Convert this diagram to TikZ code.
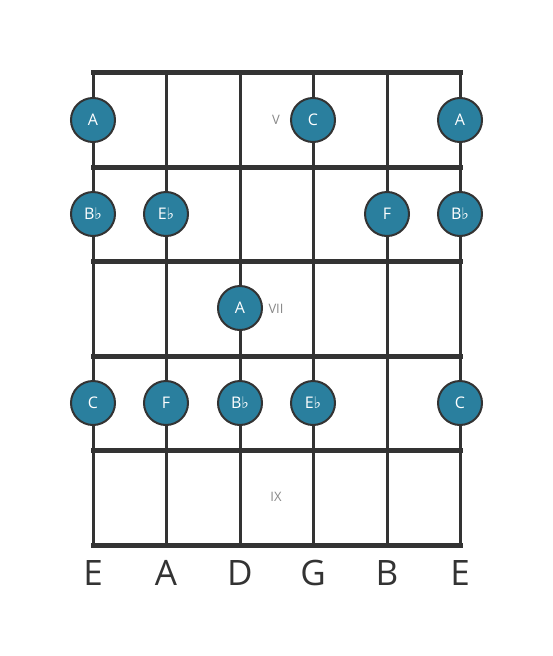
\documentclass[tikz,border=0pt]{standalone}
\usepackage{fontspec}
\setmainfont{Open Sans}
\newfontfamily\symfont{DejaVu Sans}
\newcommand{\fl}{{\symfont\char"266D}}
\definecolor{dotfill}{HTML}{2A7F9E}
\definecolor{lineg}{HTML}{333333}
\definecolor{numg}{HTML}{888888}
\begin{document}
\begin{tikzpicture}[x=1pt,y=-1pt,
  stringline/.style={draw=lineg,line width=3pt},
  fretline/.style={draw=lineg,line width=5pt,line cap=rect},
  notedot/.style={circle,fill=dotfill,draw=lineg,line width=2pt,minimum size=44pt,inner sep=0pt,text=white,font=\fontsize{16}{16}\selectfont},
  fretnum/.style={text=numg,font=\fontsize{13}{13}\selectfont},
  strname/.style={text=lineg,font=\fontsize{35}{35}\selectfont}]
\useasboundingbox (0,0) rectangle (553,656);
% string coordinates
\foreach \i/\x in {1/93,2/166,3/240,4/313,5/387,6/460}{
  \coordinate (st\i) at (\x,72);
  \coordinate (sb\i) at (\x,545);
}
\foreach \i in {1,...,6}{ \draw[stringline] (st\i) -- (sb\i); }
\foreach \j/\y in {0/72,1/167,2/261,3/356,4/450,5/545}{
  \coordinate (fl\j) at (93,\y);
  \coordinate (fr\j) at (460,\y);
  \draw[fretline] (fl\j) -- (fr\j);
}
% fret numbers
\node[fretnum] (n5) at (276,120) {V};
\node[fretnum] (n7) at (276,309) {VII};
\node[fretnum] (n9) at (276,497) {IX};
% dots
\node[notedot] (d1) at (93,120) {A};
\node[notedot] (d2) at (313,120) {C};
\node[notedot] (d3) at (460,120) {A};
\node[notedot] (d4) at (93,214) {B\fl};
\node[notedot] (d5) at (166,214) {E\fl};
\node[notedot] (d6) at (387,214) {F};
\node[notedot] (d7) at (460,214) {B\fl};
\node[notedot] (d8) at (240,308) {A};
\node[notedot] (d9) at (93,403) {C};
\node[notedot] (d10) at (166,403) {F};
\node[notedot] (d11) at (240,403) {B\fl};
\node[notedot] (d12) at (313,403) {E\fl};
\node[notedot] (d13) at (460,403) {C};
% string names
\node[strname] (s1) at (93,573) {E};
\node[strname] (s2) at (166,573) {A};
\node[strname] (s3) at (240,573) {D};
\node[strname] (s4) at (313,573) {G};
\node[strname] (s5) at (387,573) {B};
\node[strname] (s6) at (460,573) {E};
\end{tikzpicture}
\end{document}
